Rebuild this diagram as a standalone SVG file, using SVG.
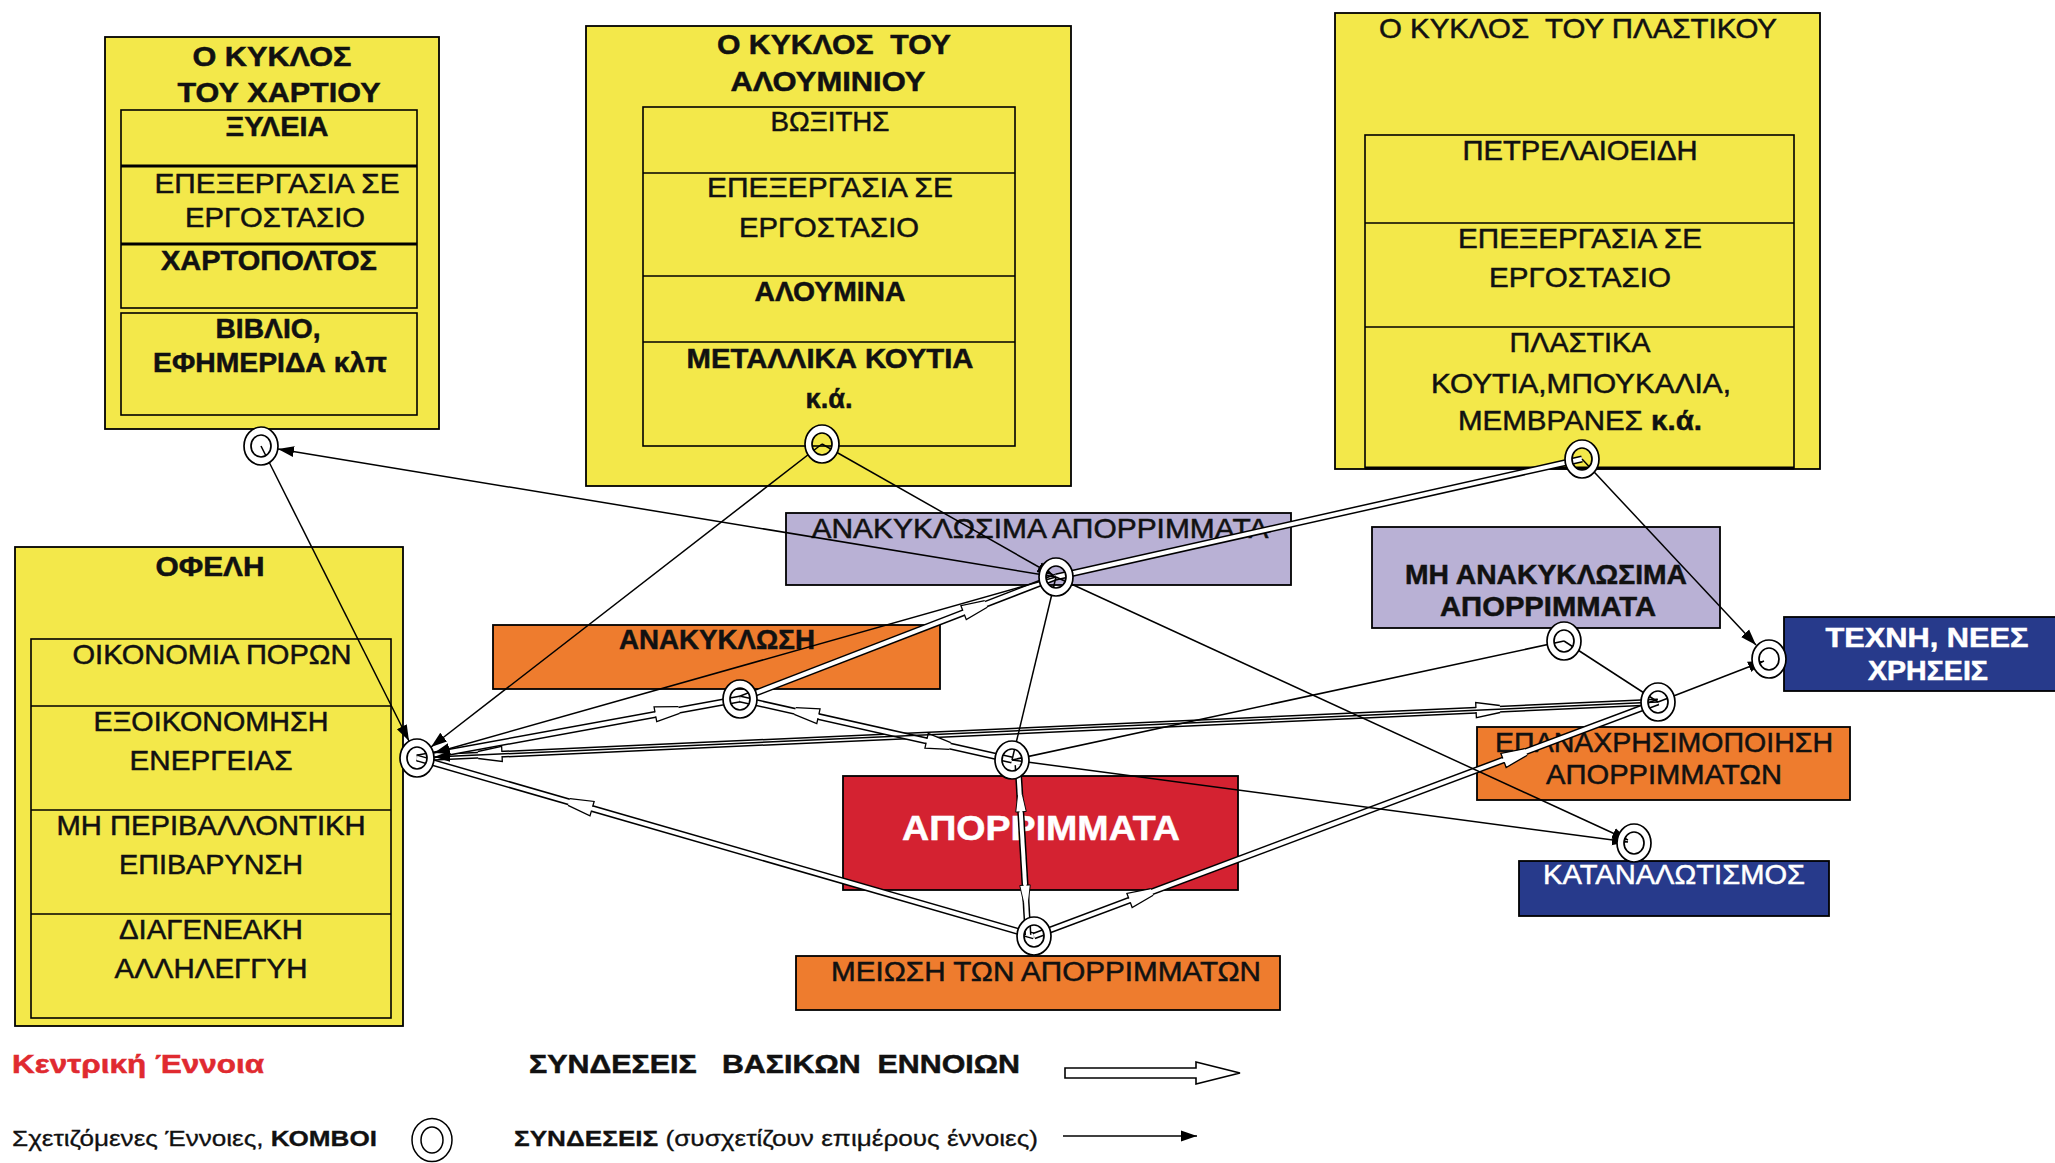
<svg xmlns="http://www.w3.org/2000/svg" xmlns:xlink="http://www.w3.org/1999/xlink" width="2055" height="1163" viewBox="0 0 2055 1163">
<style>
.box{stroke:#000;stroke-width:1.8}
.y{fill:#F3E84A}
.lav{fill:#B9B1D5}
.or{fill:#EE7C2E}
.red{fill:#D42231}
.navy{fill:#273A8B}
.in{fill:none;stroke:#000;stroke-width:1.6}
.thk{stroke:#000;stroke-width:3.2}
text{font-family:"Liberation Sans",Arial,sans-serif;font-size:28px;fill:#111;stroke:#111;stroke-width:0.5}
.c{text-anchor:middle}
.b{font-weight:bold}
.w{fill:#fff;stroke:#fff}
.thin{stroke:#000;stroke-width:1.5;fill:none}
.dO{stroke:#000;stroke-width:7;fill:none}
.dI{stroke:#fff;stroke-width:4;fill:none}
</style>
<defs>
<marker id="ah" markerUnits="userSpaceOnUse" markerWidth="18" markerHeight="14" refX="16" refY="7" orient="auto">
<path d="M0,1.5 L16,7 L0,12.5 Z" fill="#000"/>
</marker>
<g id="hn">
<path d="M-24,-7.5 L0,-3.5 L0,3.5 L-24,7.5 Z" fill="#fff"/>
<path d="M-24,-2 L-24,-7.5 L0,-3.5 M-24,2 L-24,7.5 L0,3.5" fill="none" stroke="#000" stroke-width="1.3"/>
</g>
<path id="ring" d="M-17,0 a17,19 0 1,0 34,0 a17,19 0 1,0 -34,0 Z M-10,0 a10,11 0 1,0 20,0 a10,11 0 1,0 -20,0 Z" fill="#fff" fill-rule="evenodd" stroke="#000" stroke-width="1.7"/>
</defs>
<rect width="2055" height="1163" fill="#fff"/>

<g id="paper-cycle">
<rect class="box y" x="105" y="37" width="334" height="392"/>
<rect class="in" x="121" y="110" width="296" height="198"/>
<line class="thk" x1="121" y1="166" x2="417" y2="166"/>
<line class="thk" x1="121" y1="244" x2="417" y2="244"/>
<rect class="in" x="121" y="313" width="296" height="102"/>
<text class="c b" x="272" y="66" textLength="159" lengthAdjust="spacingAndGlyphs">Ο ΚΥΚΛΟΣ</text>
<text class="c b" x="279" y="102" textLength="203" lengthAdjust="spacingAndGlyphs">ΤΟΥ ΧΑΡΤΙΟΥ</text>
<text class="c b" x="277" y="136" textLength="103" lengthAdjust="spacingAndGlyphs">ΞΥΛΕΙΑ</text>
<text class="c" x="277" y="193" textLength="245" lengthAdjust="spacingAndGlyphs">ΕΠΕΞΕΡΓΑΣΙΑ ΣΕ</text>
<text class="c" x="275" y="227" textLength="180" lengthAdjust="spacingAndGlyphs">ΕΡΓΟΣΤΑΣΙΟ</text>
<text class="c b" x="269" y="270" textLength="216" lengthAdjust="spacingAndGlyphs">ΧΑΡΤΟΠΟΛΤΟΣ</text>
<text class="c b" x="268" y="338" textLength="105" lengthAdjust="spacingAndGlyphs">ΒΙΒΛΙΟ,</text>
<text class="c b" x="270" y="372" textLength="234" lengthAdjust="spacingAndGlyphs">ΕΦΗΜΕΡΙΔΑ κλπ</text>
</g>

<g id="aluminium-cycle">
<rect class="box y" x="586" y="26" width="485" height="460"/>
<rect class="in" x="643" y="107" width="372" height="339"/>
<line class="in" x1="643" y1="173" x2="1015" y2="173"/>
<line class="in" x1="643" y1="276" x2="1015" y2="276"/>
<line class="in" x1="643" y1="342" x2="1015" y2="342"/>
<text class="c b" x="834" y="54" textLength="234" lengthAdjust="spacingAndGlyphs" xml:space="preserve">Ο ΚΥΚΛΟΣ  ΤΟΥ</text>
<text class="c b" x="828" y="91" textLength="195" lengthAdjust="spacingAndGlyphs">ΑΛΟΥΜΙΝΙΟΥ</text>
<text class="c" x="830" y="131" textLength="119" lengthAdjust="spacingAndGlyphs">ΒΩΞΙΤΗΣ</text>
<text class="c" x="830" y="197" textLength="246" lengthAdjust="spacingAndGlyphs">ΕΠΕΞΕΡΓΑΣΙΑ ΣΕ</text>
<text class="c" x="829" y="237" textLength="180" lengthAdjust="spacingAndGlyphs">ΕΡΓΟΣΤΑΣΙΟ</text>
<text class="c b" x="830" y="301" textLength="151" lengthAdjust="spacingAndGlyphs">ΑΛΟΥΜΙΝΑ</text>
<text class="c b" x="830" y="368" textLength="287" lengthAdjust="spacingAndGlyphs">ΜΕΤΑΛΛΙΚΑ ΚΟΥΤΙΑ</text>
<text class="c b" x="829" y="408" textLength="47" lengthAdjust="spacingAndGlyphs">κ.ά.</text>
</g>

<g id="plastic-cycle">
<rect class="box y" x="1335" y="13" width="485" height="456"/>
<rect class="in" x="1365" y="135" width="429" height="333"/>
<line class="in" x1="1365" y1="223" x2="1794" y2="223"/>
<line class="in" x1="1365" y1="327" x2="1794" y2="327"/>
<line class="thk" x1="1365" y1="468" x2="1794" y2="468"/>
<text class="c" x="1578" y="38" textLength="398" lengthAdjust="spacingAndGlyphs" xml:space="preserve">Ο ΚΥΚΛΟΣ  ΤΟΥ ΠΛΑΣΤΙΚΟΥ</text>
<text class="c" x="1580" y="160" textLength="235" lengthAdjust="spacingAndGlyphs">ΠΕΤΡΕΛΑΙΟΕΙΔΗ</text>
<text class="c" x="1580" y="248" textLength="244" lengthAdjust="spacingAndGlyphs">ΕΠΕΞΕΡΓΑΣΙΑ ΣΕ</text>
<text class="c" x="1580" y="287" textLength="182" lengthAdjust="spacingAndGlyphs">ΕΡΓΟΣΤΑΣΙΟ</text>
<text class="c" x="1580" y="352" textLength="141" lengthAdjust="spacingAndGlyphs">ΠΛΑΣΤΙΚΑ</text>
<text class="c" x="1581" y="393" textLength="300" lengthAdjust="spacingAndGlyphs">ΚΟΥΤΙΑ,ΜΠΟΥΚΑΛΙΑ,</text>
<text class="c" x="1580" y="430" textLength="244" lengthAdjust="spacingAndGlyphs">ΜΕΜΒΡΑΝΕΣ <tspan class="b">κ.ά.</tspan></text>
</g>

<g id="benefits">
<rect class="box y" x="15" y="547" width="388" height="479"/>
<rect class="in" x="31" y="639" width="360" height="379"/>
<line class="in" x1="31" y1="706" x2="391" y2="706"/>
<line class="in" x1="31" y1="810" x2="391" y2="810"/>
<line class="in" x1="31" y1="914" x2="391" y2="914"/>
<text class="c b" x="210" y="576" textLength="109" lengthAdjust="spacingAndGlyphs">ΟΦΕΛΗ</text>
<text class="c" x="212" y="664" textLength="279" lengthAdjust="spacingAndGlyphs">ΟΙΚΟΝΟΜΙΑ ΠΟΡΩΝ</text>
<text class="c" x="211" y="731" textLength="235" lengthAdjust="spacingAndGlyphs">ΕΞΟΙΚΟΝΟΜΗΣΗ</text>
<text class="c" x="211" y="770" textLength="163" lengthAdjust="spacingAndGlyphs">ΕΝΕΡΓΕΙΑΣ</text>
<text class="c" x="211" y="835" textLength="309" lengthAdjust="spacingAndGlyphs">ΜΗ ΠΕΡΙΒΑΛΛΟΝΤΙΚΗ</text>
<text class="c" x="211" y="874" textLength="184" lengthAdjust="spacingAndGlyphs">ΕΠΙΒΑΡΥΝΣΗ</text>
<text class="c" x="211" y="939" textLength="184" lengthAdjust="spacingAndGlyphs">ΔΙΑΓΕΝΕΑΚΗ</text>
<text class="c" x="211" y="978" textLength="193" lengthAdjust="spacingAndGlyphs">ΑΛΛΗΛΕΓΓΥΗ</text>
</g>

<g id="recyclable-waste">
<rect class="box lav" x="786" y="513" width="505" height="72"/>
<text class="c" x="1040" y="538" textLength="457" lengthAdjust="spacingAndGlyphs">ΑΝΑΚΥΚΛΩΣΙΜΑ ΑΠΟΡΡΙΜΜΑΤΑ</text>
</g>
<g id="non-recyclable-waste">
<rect class="box lav" x="1372" y="527" width="348" height="101"/>
<text class="c b" x="1546" y="584" textLength="282" lengthAdjust="spacingAndGlyphs">ΜΗ ΑΝΑΚΥΚΛΩΣΙΜΑ</text>
<text class="c b" x="1548" y="616" textLength="216" lengthAdjust="spacingAndGlyphs">ΑΠΟΡΡΙΜΜΑΤΑ</text>
</g>
<g id="recycling">
<rect class="box or" x="493" y="625" width="447" height="64"/>
<text class="c b" x="717" y="649" textLength="196" lengthAdjust="spacingAndGlyphs">ΑΝΑΚΥΚΛΩΣΗ</text>
</g>
<g id="waste">
<rect class="box red" x="843" y="776" width="395" height="114"/>
<text class="c b w" x="1041" y="840" style="font-size:35px" textLength="278" lengthAdjust="spacingAndGlyphs">ΑΠΟΡΡΙΜΜΑΤΑ</text>
</g>
<g id="waste-reduction">
<rect class="box or" x="796" y="956" width="484" height="54"/>
<text class="c" x="1046" y="981" style="font-size:27px" textLength="430" lengthAdjust="spacingAndGlyphs">ΜΕΙΩΣΗ ΤΩΝ ΑΠΟΡΡΙΜΜΑΤΩΝ</text>
</g>
<g id="reuse">
<rect class="box or" x="1477" y="727" width="373" height="73"/>
<text class="c" x="1664" y="752" textLength="338" lengthAdjust="spacingAndGlyphs">ΕΠΑΝΑΧΡΗΣΙΜΟΠΟΙΗΣΗ</text>
<text class="c" x="1664" y="784" textLength="236" lengthAdjust="spacingAndGlyphs">ΑΠΟΡΡΙΜΜΑΤΩΝ</text>
</g>
<g id="art-new-uses">
<rect class="box navy" x="1784" y="617" width="275" height="74"/>
<text class="c b w" x="1927" y="647" textLength="203" lengthAdjust="spacingAndGlyphs">ΤΕΧΝΗ, ΝΕΕΣ</text>
<text class="c b w" x="1928" y="680" textLength="120" lengthAdjust="spacingAndGlyphs">ΧΡΗΣΕΙΣ</text>
</g>
<g id="consumerism">
<rect class="box navy" x="1519" y="861" width="310" height="55"/>
<text class="c w" x="1674" y="884" textLength="262" lengthAdjust="spacingAndGlyphs">ΚΑΤΑΝΑΛΩΤΙΣΜΟΣ</text>
</g>

<g id="connectors">
<g id="h8"><path class="dO" d="M1056,577 L1582,459"/><path class="dI" d="M1056,577 L1582,459"/></g>
<g id="h7"><path class="dO" d="M417,758 L1658,702"/><path class="dI" d="M417,758 L1658,702"/>
<use xlink:href="#hn" href="#hn" transform="translate(478,755) rotate(177.4)"/>
<use xlink:href="#hn" href="#hn" transform="translate(1500,709) rotate(-2.6)"/></g>
<g id="h1"><path class="dO" d="M417,758 L740,699"/><path class="dI" d="M417,758 L740,699"/>
<use xlink:href="#hn" href="#hn" transform="translate(679,710) rotate(-10.35)"/></g>
<g id="h2"><path class="dO" d="M740,699 L1056,577"/><path class="dI" d="M740,699 L1056,577"/>
<use xlink:href="#hn" href="#hn" transform="translate(986,604) rotate(-21.1)"/></g>
<g id="h3"><path class="dO" d="M1012,760 L740,699"/><path class="dI" d="M1012,760 L740,699"/>
<use xlink:href="#hn" href="#hn" transform="translate(795,711) rotate(-167.4)"/>
<use xlink:href="#hn" href="#hn" transform="translate(950,746) rotate(12.6)"/></g>
<g id="h4"><path class="dO" d="M1034,936 L417,758"/><path class="dI" d="M1034,936 L417,758"/>
<use xlink:href="#hn" href="#hn" transform="translate(569,802) rotate(196.1)"/></g>
<g id="h6"><path class="dO" d="M1034,936 L1658,702"/><path class="dI" d="M1034,936 L1658,702"/>
<use xlink:href="#hn" href="#hn" transform="translate(1152,892) rotate(-20.56)"/>
<use xlink:href="#hn" href="#hn" transform="translate(1526,752) rotate(-20.56)"/></g>
<g id="h5"><path class="dO" d="M1018,765 L1028,935"/><path class="dI" d="M1018,765 L1028,935"/>
<use xlink:href="#hn" href="#hn" transform="translate(1020,795) rotate(-93.4) scale(0.7)"/>
<use xlink:href="#hn" href="#hn" transform="translate(1026,902) rotate(86.6) scale(0.7)"/></g>

<line class="thin" x1="1056" y1="577" x2="278" y2="449" marker-end="url(#ah)"/>
<line class="thin" x1="261" y1="446" x2="409" y2="741" marker-end="url(#ah)"/>
<line class="thin" x1="822" y1="444" x2="431" y2="747" marker-end="url(#ah)"/>
<line class="thin" x1="822" y1="444" x2="1053" y2="575" marker-end="url(#ah)"/>
<line class="thin" x1="1582" y1="459" x2="1756" y2="645" marker-end="url(#ah)"/>
<line class="thin" x1="1056" y1="577" x2="1628" y2="840" marker-end="url(#ah)"/>
<line class="thin" x1="1056" y1="577" x2="1012" y2="760"/>
<line class="thin" x1="1012" y1="760" x2="1628" y2="842" marker-end="url(#ah)"/>
<line class="thin" x1="1564" y1="641" x2="1658" y2="702"/>
<line class="thin" x1="1658" y1="702" x2="1764" y2="661" marker-end="url(#ah)"/>
<line class="thin" x1="1564" y1="641" x2="1012" y2="760"/>
<line class="thin" x1="1056" y1="577" x2="434" y2="753" marker-end="url(#ah)"/>
<line class="thin" x1="1658" y1="702" x2="434" y2="757" marker-end="url(#ah)"/>
</g>

<g id="junctions">
<use id="j-paper" xlink:href="#ring" href="#ring" x="261" y="446"/>
<use id="j-benefits" xlink:href="#ring" href="#ring" x="417" y="758"/>
<use id="j-aluminium" xlink:href="#ring" href="#ring" x="822" y="444"/>
<use id="j-plastic" xlink:href="#ring" href="#ring" x="1582" y="459"/>
<use id="j-recyclable" xlink:href="#ring" href="#ring" x="1056" y="577"/>
<use id="j-recycling" xlink:href="#ring" href="#ring" x="740" y="699"/>
<use id="j-waste" xlink:href="#ring" href="#ring" x="1012" y="760"/>
<use id="j-reduction" xlink:href="#ring" href="#ring" x="1034" y="936"/>
<use id="j-nonrecyclable" xlink:href="#ring" href="#ring" x="1564" y="641"/>
<use id="j-reuse" xlink:href="#ring" href="#ring" x="1658" y="702"/>
<use id="j-art" xlink:href="#ring" href="#ring" x="1769" y="659"/>
<use id="j-consumerism" xlink:href="#ring" href="#ring" x="1634" y="843"/>
</g>

<g id="legend">
<text class="b" x="12" y="1073" style="fill:#E02A30;stroke:#E02A30;font-size:26px" textLength="252" lengthAdjust="spacingAndGlyphs">Κεντρική Έννοια</text>
<text class="b" x="529" y="1073" style="font-size:26px" textLength="491" lengthAdjust="spacingAndGlyphs" xml:space="preserve">ΣΥΝΔΕΣΕΙΣ   ΒΑΣΙΚΩΝ  ΕΝΝΟΙΩΝ</text>
<polygon points="1065,1068 1196,1068 1196,1062 1240,1073 1196,1084 1196,1078 1065,1078" fill="#fff" stroke="#000" stroke-width="1.6"/>
<text x="12" y="1146" style="font-size:22px;stroke-width:0.3" textLength="365" lengthAdjust="spacingAndGlyphs">Σχετιζόμενες Έννοιες, <tspan class="b">ΚΟΜΒΟΙ</tspan></text>
<path d="M412,1140 a20,21.5 0 1,0 40,0 a20,21.5 0 1,0 -40,0 Z M421,1140 a11,13 0 1,0 22,0 a11,13 0 1,0 -22,0 Z" fill="#fff" fill-rule="evenodd" stroke="#000" stroke-width="1.5"/>
<text x="514" y="1146" style="font-size:22px;stroke-width:0.3" textLength="524" lengthAdjust="spacingAndGlyphs"><tspan class="b">ΣΥΝΔΕΣΕΙΣ</tspan> (συσχετίζουν επιμέρους έννοιες)</text>
<line class="thin" x1="1063" y1="1136" x2="1197" y2="1136" marker-end="url(#ah)"/>
</g>
</svg>
